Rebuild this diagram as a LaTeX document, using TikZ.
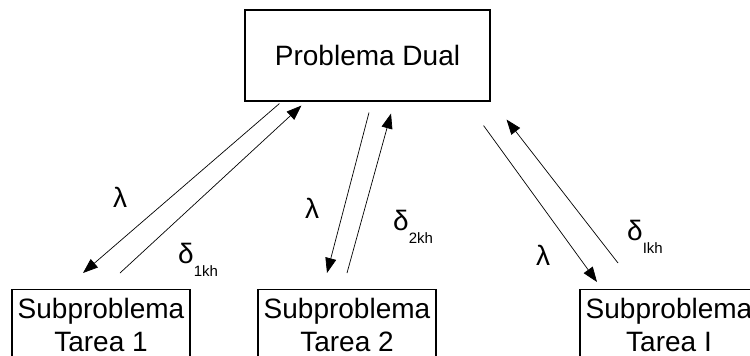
\documentclass[tikz,border=0pt]{standalone}
\usepackage{fontspec}
\setmainfont{Liberation Sans}
\usetikzlibrary{arrows.meta,positioning,calc}
\newcommand{\subsz}{\fontsize{15}{15}\selectfont}

\begin{document}
\begin{tikzpicture}[x = 1pt, y = -1pt,
        box/.style  = {draw, line width = 1.1pt, fill = white, inner sep = 0pt, align = center, font = \fontsize{28}{33}\selectfont},
        flow/.style = {line width = 0.7pt, -{Triangle[length = 15pt, width = 11pt]}},
        lbl/.style  = {inner sep = 0pt, font = \fontsize{28}{33}\selectfont}]
    \useasboundingbox[fill = white] (0,0) rectangle (750,356);
    \clip (0,0) rectangle (750,356);

    \node[box, minimum width = 245pt, minimum height = 91pt]        (dual)  at (367.5,55.5) {Problema Dual};
    \node[box, minimum width = 178pt, inner ysep = 9pt, anchor = north] (sub_1) at (101,289) {Subproblema\\Tarea 1};
    \node[box, minimum width = 178pt, inner ysep = 9pt, anchor = north] (sub_2) at (347,289) {Subproblema\\Tarea 2};
    \node[box, minimum width = 178pt, inner ysep = 9pt, anchor = north] (sub_I) at (669,289) {Subproblema\\Tarea I};

    % dual -> subproblema (lambda), subproblema -> dual (delta)
    \draw[flow] ($(dual.south west)+(35,2)$)  -- ($(sub_1.north)+(-18,-16)$);
    \draw[flow] ($(sub_1.north)+(19,-16)$)    -- ($(dual.south west)+(57,4)$);
    \draw[flow] ($(dual.south)+(1.5,11)$)     -- ($(sub_2.north)+(-20,-16)$);
    \draw[flow] ($(sub_2.north)+(0,-16)$)     -- ($(dual.south)+(23.5,12)$);
    \draw[flow] ($(dual.south east)+(-7,24)$) -- ($(sub_I.north)+(-72,-7)$);
    \draw[flow] ($(sub_I.north)+(-51,-26)$)   -- ($(dual.south east)+(16,18)$);

    \node[lbl]                   (l_1) at (120,197) {λ};
    \node[lbl]                   (l_2) at (312,208) {λ};
    \node[lbl]                   (l_I) at (543,255) {λ};
    \node[lbl, anchor = base west] (d_1) at (178,263) {δ\raisebox{-13pt}{\subsz 1kh}};
    \node[lbl, anchor = base west] (d_2) at (393,230) {δ\raisebox{-13pt}{\subsz 2kh}};
    \node[lbl, anchor = base west] (d_I) at (627,240) {δ\raisebox{-13pt}{\subsz Ikh}};
\end{tikzpicture}
\end{document}
